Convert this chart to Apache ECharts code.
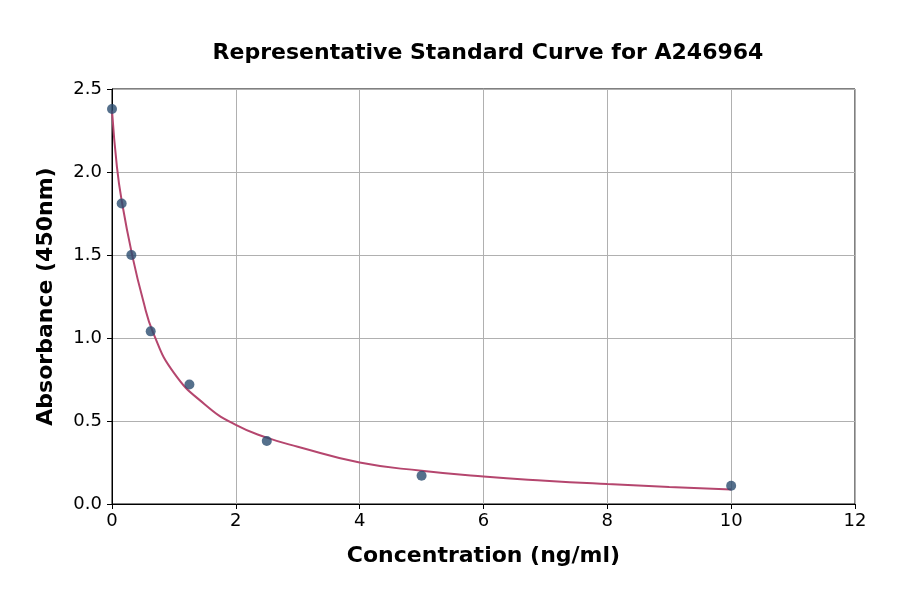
<!DOCTYPE html>
<html>
<head>
<meta charset="utf-8">
<script src="https://cdn.jsdelivr.net/npm/echarts@6/dist/echarts.min.js"></script>
<style>
  html, body { margin: 0; padding: 0; background: #fff; }
  #chart { width: 900px; height: 594px; }
</style>
</head>
<body>
<div id="chart"></div>
<script>
// standard points (concentration ng/ml, OD 450nm)
var stdConc = [0, 0.156, 0.3125, 0.625, 1.25, 2.5, 5, 10];
var stdOD = [2.38, 1.81, 1.50, 1.04, 0.72, 0.38, 0.17, 0.11];

// fitted curve
var curveX = [0, 0.08, 0.16, 0.32, 0.5, 0.667, 1.0, 1.5, 2, 2.5, 3, 4, 5, 6, 7, 8, 9, 10];
var curveY = [2.37, 2.03, 1.82, 1.51, 1.23, 1.03, 0.79, 0.60, 0.476, 0.40, 0.345, 0.25, 0.20, 0.165, 0.14, 0.12, 0.103, 0.088];

var titleText = 'Representative Standard Curve for A246964';
var xName = 'Concentration (ng/ml)';
var yName = 'Absorbance (450nm)';

window.onload = start_curve();
function start_curve() {
    var myChart = echarts.init(document.getElementById('chart'));

    var pts = [];
    for (var i = 0; i < stdConc.length; i++) {
        pts.push([stdConc[i], stdOD[i]]);
    }
    var fit = [];
    for (var j = 0; j < curveX.length; j++) {
        fit.push([curveX[j], curveY[j]]);
    }

    var font = 'DejaVu Sans';
    var option = {
        backgroundColor: '#fff',
        animation: false,
        title: {
            text: titleText,
            left: 483,
            top: 37,
            textAlign: 'center',
            textStyle: { fontFamily: font, fontSize: 22, fontWeight: 'bold', color: '#000' }
        },
        grid: {
            left: 112, right: 45, top: 89, bottom: 90,
            show: true,
            borderColor: '#000',
            borderWidth: 1
        },
        xAxis: {
            type: 'value',
            min: 0, max: 12, interval: 2,
            name: xName,
            nameLocation: 'middle',
            nameGap: 41,
            nameTextStyle: { fontFamily: font, fontSize: 22, fontWeight: 'bold', color: '#000' },
            axisLine: { show: true, lineStyle: { color: '#000', width: 1 } },
            axisTick: { show: true, length: 5, lineStyle: { color: '#000' } },
            axisLabel: { fontFamily: font, fontSize: 18, color: '#000', margin: 8 },
            splitLine: { show: true, lineStyle: { color: '#b0b0b0', width: 1 } }
        },
        yAxis: {
            type: 'value',
            min: 0, max: 2.5, interval: 0.5,
            name: yName,
            nameLocation: 'middle',
            nameGap: 55,
            nameTextStyle: { fontFamily: font, fontSize: 22, fontWeight: 'bold', color: '#000' },
            axisLine: { show: true, lineStyle: { color: '#000', width: 1 } },
            axisTick: { show: true, length: 5, lineStyle: { color: '#000' } },
            axisLabel: {
                fontFamily: font, fontSize: 18, color: '#000', margin: 10,
                formatter: function (v) { return v.toFixed(1); }
            },
            splitLine: { show: true, lineStyle: { color: '#b0b0b0', width: 1 } }
        },
        series: [
            {
                name: 'fit',
                type: 'line',
                smooth: 0.5,
                showSymbol: false,
                lineStyle: { color: '#b5466e', width: 2 },
                data: fit,
                z: 2
            },
            {
                name: 'standards',
                type: 'scatter',
                symbolSize: 10,
                itemStyle: { color: '#2b4c6f' },
                data: pts,
                z: 3
            }
        ]
    };
    myChart.setOption(option);
}
</script>
</body>
</html>
